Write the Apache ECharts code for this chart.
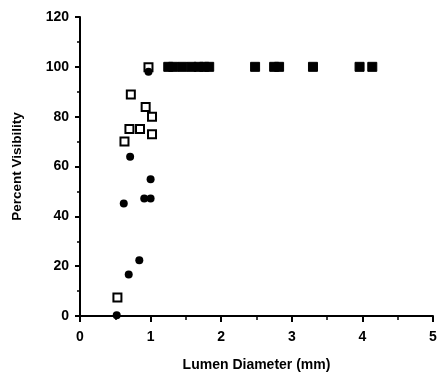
<!DOCTYPE html>
<html><head><meta charset="utf-8">
<script src="https://cdn.jsdelivr.net/npm/echarts@6/dist/echarts.min.js"></script>
<style>html,body{margin:0;padding:0;background:#fff}#c{width:438px;height:375px}</style>
</head><body><div id="c"></div>
<script>
const openX = [0.53, 0.63, 0.70, 0.72, 0.85, 0.93, 1.02, 1.02, 0.97];
const openY = [7.4, 70.0, 75.1, 88.9, 75.1, 83.9, 80.0, 72.9, 99.8];
const filledX = [0.52, 0.62, 0.69, 0.71, 0.84, 0.91, 1.0, 1.0, 0.97];
const filledY = [0.3, 45.2, 16.7, 63.9, 22.4, 47.2, 47.2, 54.9, 98.0];
const sqX = [1.25, 1.32, 1.45, 1.58, 1.68, 1.76, 1.83, 2.48, 2.75, 2.82, 3.30, 3.96, 4.14];
const sqY = [100, 100, 100, 100, 100, 100, 100, 100, 100, 100, 100, 100, 100];
const zip = (a, b) => a.map((v, i) => [v, b[i]]);
const font = '"Liberation Sans", Arial, sans-serif';
const chart = echarts.init(document.getElementById('c'), null, {renderer: 'canvas'});
chart.setOption({
  animation: false,
  backgroundColor: '#fff',
  grid: {left: 80, right: 5, top: 17, bottom: 59, containLabel: false, outerBoundsMode: 'none'},
  xAxis: {
    type: 'value', min: 0, max: 5, interval: 1,
    name: 'Lumen Diameter (mm)', nameLocation: 'middle', nameGap: 42,
    nameTextStyle: {fontFamily: font, fontWeight: 'bold', fontSize: 14, color: '#000'},
    axisLine: {show: true, onZero: false, lineStyle: {color: '#000', width: 2}},
    axisTick: {show: true, length: 6, lineStyle: {color: '#000', width: 2}},
    minorTick: {show: true, splitNumber: 2, length: 4, lineStyle: {color: '#000', width: 1.5}},
    splitLine: {show: false},
    axisLabel: {fontFamily: font, fontWeight: 'bold', fontSize: 14, color: '#000', margin: 14}
  },
  yAxis: {
    type: 'value', min: 0, max: 120, interval: 20,
    name: 'Percent Visibility', nameLocation: 'middle', nameGap: 56, nameRotate: 90,
    nameTextStyle: {fontFamily: font, fontWeight: 'bold', fontSize: 13.5, color: '#000'},
    axisLine: {show: true, lineStyle: {color: '#000', width: 2}},
    axisTick: {show: true, length: 5, lineStyle: {color: '#000', width: 2}},
    minorTick: {show: true, splitNumber: 2, length: 3, lineStyle: {color: '#000', width: 1.5}},
    splitLine: {show: false},
    axisLabel: {fontFamily: font, fontWeight: 'bold', fontSize: 14, color: '#000', margin: 11}
  },
  series: [
    {type: 'scatter', data: zip(sqX, sqY), symbol: 'rect', symbolSize: 9,
     itemStyle: {color: '#000', opacity: 1, borderColor: '#000', borderWidth: 1}},
    {type: 'scatter', data: zip(openX, openY), symbol: 'rect', symbolSize: 8,
     itemStyle: {color: '#fff', opacity: 1, borderColor: '#000', borderWidth: 2}},
    {type: 'scatter', data: zip(filledX, filledY), symbol: 'circle', symbolSize: 8,
     itemStyle: {color: '#000', opacity: 1}}
  ]
});
</script></body></html>
